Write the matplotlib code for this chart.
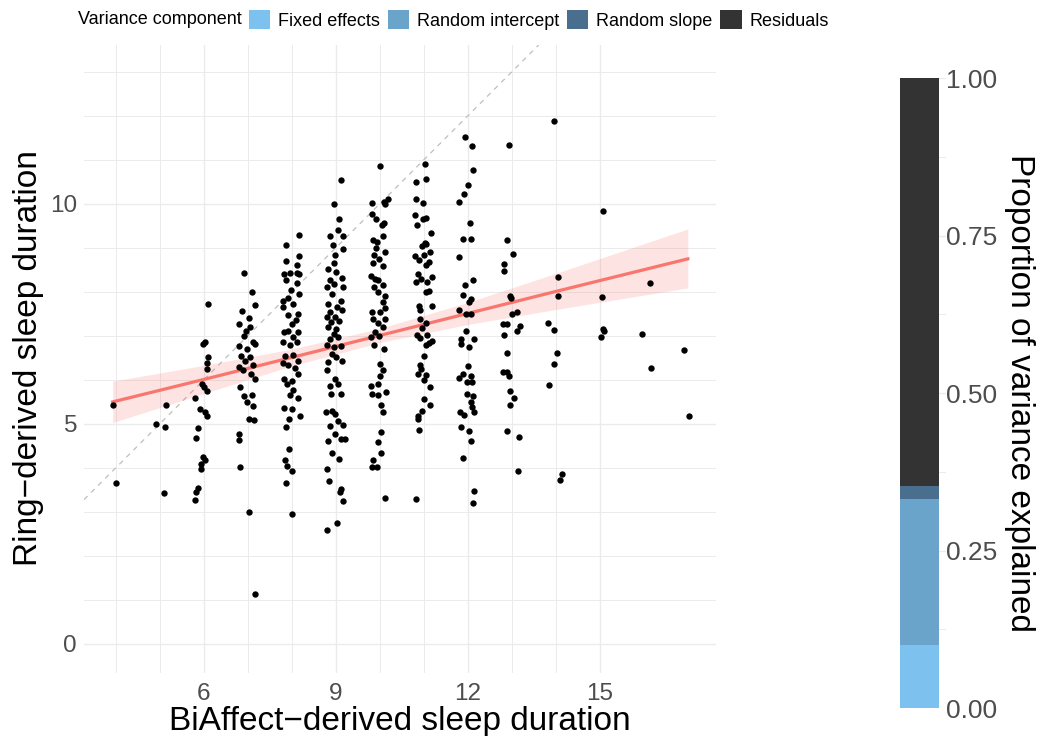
import numpy as np
import matplotlib.pyplot as plt
from matplotlib.patches import Patch

plt.rcParams['font.family'] = ['Liberation Sans', 'DejaVu Sans']

# (BiAffect hours, ring hours) per night, grouped by rounded BiAffect duration
col_4 = [(3.93, 5.42), (4.00, 3.66)]
col_5 = [(4.92, 5.00), (5.15, 5.42), (5.13, 4.92), (5.10, 3.44)]
col_6 = [(6.10, 7.73), (6.02, 6.87), (5.98, 6.82), (6.10, 6.51), (6.07, 6.38), (6.08, 6.25),
         (5.95, 5.90), (6.00, 5.85), (6.08, 5.75), (5.81, 5.59), (5.92, 5.34), (6.03, 5.28),
         (6.07, 5.18), (5.87, 4.90), (5.82, 4.67), (5.98, 4.25), (6.03, 4.17), (5.93, 4.09),
         (5.94, 3.98), (5.86, 3.55), (5.83, 3.45), (5.81, 3.28)]
col_7 = [(6.92, 8.42), (7.09, 8.00), (6.88, 7.56), (7.16, 7.70), (7.04, 7.40), (6.81, 7.26),
         (6.95, 7.12), (7.05, 7.20), (6.92, 7.00), (7.13, 6.87), (6.80, 6.78), (6.98, 6.71),
         (7.16, 6.81), (6.85, 6.55), (7.06, 6.51), (6.94, 6.44), (7.13, 6.34), (6.81, 6.30),
         (6.90, 6.22), (7.07, 6.14), (7.17, 6.03), (6.83, 5.83), (6.92, 5.63), (6.98, 5.49),
         (7.09, 5.65), (7.13, 5.41), (7.02, 5.11), (7.14, 5.08), (6.81, 4.77), (6.81, 4.63),
         (6.83, 4.02), (7.02, 3.00), (7.17, 1.13)]
col_8 = [(8.17, 9.30), (7.88, 9.07), (8.16, 8.81), (7.88, 8.71), (8.13, 8.62), (7.83, 8.40),
         (7.95, 8.43), (8.13, 8.43), (8.17, 8.40), (7.86, 8.26), (8.12, 8.21), (7.99, 8.05),
         (8.17, 7.96), (7.81, 7.80), (7.92, 7.85), (7.80, 7.65), (8.02, 7.72), (7.91, 7.48),
         (8.14, 7.50), (8.09, 7.36), (8.00, 7.28), (7.83, 7.08), (7.92, 7.12), (8.14, 7.08),
         (8.03, 6.97), (7.81, 6.87), (7.96, 6.79), (8.11, 6.87), (7.84, 6.55), (8.03, 6.56),
         (8.14, 6.43), (7.92, 6.34), (7.80, 6.38), (8.07, 6.26), (7.83, 6.02), (8.00, 5.98),
         (7.89, 5.90), (8.14, 6.14), (8.03, 5.77), (8.15, 5.59), (7.95, 5.65), (7.83, 5.36),
         (8.01, 5.33), (7.94, 5.12), (8.19, 5.18), (7.86, 4.93), (7.94, 4.43), (7.85, 4.19),
         (7.90, 4.04), (8.00, 3.92), (7.86, 3.65), (8.00, 2.96)]
col_9 = [(9.13, 10.55), (8.95, 10.00), (9.08, 9.66), (9.05, 9.40), (9.17, 9.28), (8.87, 9.26),
         (8.93, 9.06), (9.17, 8.98), (8.98, 8.83), (8.95, 8.65), (8.83, 8.52), (9.01, 8.45),
         (9.14, 8.32), (8.86, 8.26), (8.97, 8.18), (9.16, 8.11), (8.79, 8.11), (8.92, 7.96),
         (9.11, 7.80), (8.83, 7.73), (9.02, 7.65), (8.87, 7.54), (9.14, 7.58), (8.79, 7.42),
         (8.98, 7.42), (8.90, 7.31), (9.08, 7.33), (8.83, 7.20), (9.01, 7.16), (8.95, 7.05),
         (8.87, 6.93), (9.06, 6.97), (9.11, 6.78), (8.81, 6.80), (8.95, 6.74), (8.91, 6.59),
         (9.00, 6.51), (8.83, 6.40), (9.15, 6.44), (8.79, 6.23), (8.98, 6.02), (8.87, 5.87),
         (9.05, 5.91), (8.90, 5.68), (9.11, 5.68), (8.78, 5.28), (8.92, 5.30), (8.98, 5.22),
         (8.87, 4.96), (9.06, 5.07), (9.16, 4.97), (8.98, 4.77), (8.83, 4.62), (9.13, 4.66),
         (9.20, 4.66), (8.91, 4.34), (9.08, 4.20), (8.81, 3.97), (8.85, 3.71), (9.13, 3.52),
         (9.09, 3.46), (9.17, 3.24), (9.02, 2.74), (8.81, 2.58)]
col_10 = [(10.00, 10.85), (9.82, 10.02), (10.18, 10.12), (10.12, 10.00), (10.09, 10.04),
          (9.82, 9.78), (9.92, 9.66), (10.10, 9.57), (10.05, 9.51), (10.07, 9.28), (9.84, 9.17),
          (9.94, 9.13), (9.91, 9.00), (10.11, 8.90), (9.86, 8.83), (9.98, 8.75), (9.84, 8.65),
          (10.07, 8.58), (9.80, 8.37), (9.90, 8.30), (9.97, 8.26), (10.07, 8.15), (9.87, 8.12),
          (9.97, 7.99), (10.11, 7.90), (10.07, 7.78), (10.13, 7.63), (9.82, 7.55), (10.01, 7.54),
          (9.84, 7.39), (10.13, 7.39), (9.95, 7.30), (10.07, 7.20), (9.81, 6.97), (9.90, 7.08),
          (9.99, 6.99), (9.87, 6.79), (10.09, 6.70), (10.00, 6.36), (10.07, 6.23), (10.01, 6.10),
          (9.81, 5.87), (9.97, 5.91), (10.15, 5.73), (9.82, 5.68), (9.95, 5.66), (10.03, 5.43),
          (10.08, 5.26), (10.03, 4.81), (9.95, 4.60), (10.03, 4.35), (9.84, 4.18), (9.82, 4.01),
          (9.94, 4.01), (10.11, 3.31)]
col_11 = [(11.03, 10.91), (10.82, 10.49), (11.04, 10.57), (10.83, 10.12), (10.98, 10.03),
          (10.81, 9.74), (10.85, 9.53), (11.05, 9.68), (10.98, 9.66), (11.17, 9.34), (11.02, 9.12),
          (11.06, 9.09), (10.95, 9.04), (11.14, 8.90), (11.00, 8.83), (10.81, 8.81), (10.89, 8.73),
          (11.11, 8.68), (11.05, 8.60), (10.87, 8.41), (11.18, 8.34), (11.08, 8.22), (10.83, 8.22),
          (10.93, 8.30), (11.11, 8.03), (11.06, 7.99), (11.18, 7.68), (10.89, 7.69), (10.92, 7.58),
          (10.91, 7.39), (11.06, 7.30), (10.96, 7.17), (10.85, 7.01), (10.92, 6.95), (11.07, 7.02),
          (11.19, 6.89), (11.06, 6.80), (11.13, 6.84), (11.00, 6.55), (10.91, 6.34), (10.94, 6.25),
          (11.06, 6.11), (10.87, 6.13), (11.00, 6.00), (11.14, 5.83), (11.00, 5.57), (11.15, 5.43),
          (10.96, 5.30), (10.88, 5.19), (10.86, 5.11), (10.90, 4.87), (10.83, 3.30)]
col_12 = [(11.94, 11.53), (12.09, 11.32), (12.13, 10.76), (12.00, 10.42), (11.91, 10.23),
          (11.80, 10.04), (12.04, 9.56), (11.90, 9.20), (12.08, 9.20), (11.81, 8.80), (12.12, 8.27),
          (11.93, 8.15), (11.90, 7.92), (12.07, 7.84), (12.03, 7.77), (11.80, 7.58), (11.96, 7.50),
          (12.07, 7.50), (11.96, 7.12), (11.84, 6.93), (12.14, 6.93), (11.84, 6.82), (12.03, 6.75),
          (12.01, 6.32), (11.90, 6.13), (11.80, 6.04), (12.07, 6.10), (11.99, 5.96), (12.10, 5.95),
          (11.99, 5.68), (12.12, 5.64), (12.08, 5.49), (12.10, 5.38), (12.14, 5.26), (11.82, 5.26),
          (11.91, 5.20), (11.84, 4.92), (12.02, 4.85), (12.07, 4.62), (11.90, 4.22), (12.14, 3.48),
          (12.12, 3.21)]
col_13 = [(12.94, 11.33), (12.88, 9.17), (13.03, 8.86), (12.82, 8.64), (12.83, 8.47), (12.95, 7.91),
          (12.99, 7.87), (13.00, 7.49), (13.11, 7.55), (12.80, 7.28), (12.88, 7.26), (13.19, 7.22),
          (13.11, 7.12), (12.83, 7.02), (12.89, 6.62), (12.81, 6.17), (12.90, 6.18), (12.94, 6.10),
          (12.96, 5.74), (13.06, 5.60), (12.96, 5.42), (12.89, 4.84), (13.17, 4.71), (13.13, 3.93)]
col_14 = [(13.95, 11.89), (14.05, 8.33), (14.05, 7.90), (13.83, 7.30), (13.96, 7.14), (14.02, 6.61),
          (13.95, 6.36), (13.84, 5.88), (14.13, 3.87), (14.10, 3.72)]
col_15 = [(15.07, 9.83), (15.06, 7.88), (15.07, 7.15), (15.10, 7.11), (15.03, 6.98)]
col_16 = [(16.13, 8.21), (15.95, 7.05), (16.16, 6.26)]
col_17 = [(16.92, 6.67), (17.03, 5.18)]

# linear fit with its 95% band
fit_x = [3.93, 6, 8, 10, 12, 14, 17.0]
fit_y = [5.50, 6.01, 6.51, 7.01, 7.51, 8.01, 8.75]
fit_lo = [5.03, 5.69, 6.32, 6.85, 7.26, 7.60, 8.09]
fit_hi = [5.97, 6.33, 6.70, 7.17, 7.76, 8.42, 9.43]

# variance decomposition
components = ['Fixed effects', 'Random intercept', 'Random slope', 'Residuals']
proportions = [0.10, 0.232, 0.02, 0.648]
comp_colors = ['#7DC1EE', '#6AA4CB', '#4A6E8E', '#333333']

pts = np.array(col_4 + col_5 + col_6 + col_7 + col_8 + col_9 + col_10 + col_11
               + col_12 + col_13 + col_14 + col_15 + col_16 + col_17)

W, H = 1042, 736
fig = plt.figure(figsize=(W / 100, H / 100), dpi=100)
grey = '#4D4D4D'
grid_c = '#EBEBEB'

# scatter panel
ax = fig.add_axes([84 / W, 1 - 673 / H, (716 - 84) / W, (673 - 45) / H])
ax.set_xlim(3.28, 17.64)
ax.set_ylim(-0.66, 13.61)
ax.set_xticks([6, 9, 12, 15])
ax.set_xticks([4, 5, 7, 8, 10, 11, 13, 14], minor=True)
ax.set_yticks([0, 5, 10])
ax.set_yticks([1, 2, 3, 4, 6, 7, 8, 9, 11, 12, 13], minor=True)
ax.grid(True, which='major', color=grid_c, lw=1.0)
ax.grid(True, which='minor', color=grid_c, lw=0.7)
ax.set_axisbelow(True)
for s in ax.spines.values():
    s.set_visible(False)
ax.tick_params(which='both', length=0, labelsize=17.5, labelcolor=grey)
ax.tick_params(axis='x', pad=7)
ax.tick_params(axis='y', pad=5)

ax.axline((0, 0), slope=1, ls=(0, (4, 4)), color='#BEBEBE', lw=0.9, zorder=1)
ax.fill_between(fit_x, fit_lo, fit_hi, color='#F8766D', alpha=0.2, lw=0, zorder=2)
ax.plot(fit_x, fit_y, color='#F8766D', lw=2.3, zorder=3)
ax.scatter(pts[:, 0], pts[:, 1], s=21, color='black', lw=0, zorder=4)

fig.text(400 / W, 1 - 730 / H, 'BiAffect\u2212derived sleep duration', ha='center',
         va='baseline', fontsize=24)
fig.text(29 / W, 1 - 358 / H, 'Ring\u2212derived sleep duration', ha='center',
         va='center', rotation=90, fontsize=24)

# stacked variance bar
bx = fig.add_axes([900 / W, 1 - 708 / H, 46 / W, (708 - 78) / H])
bx.set_xlim(0.5, 1.68)
bx.set_ylim(0, 1)
bx.set_yticks([0, 0.25, 0.5, 0.75, 1.0])
bx.set_yticks([0.125, 0.375, 0.625, 0.875], minor=True)
bx.set_yticklabels(['0.00', '0.25', '0.50', '0.75', '1.00'])
bx.set_xticks([])
bx.grid(True, axis='y', which='major', color=grid_c, lw=1.0)
bx.grid(True, axis='y', which='minor', color=grid_c, lw=0.7)
bx.set_axisbelow(True)
for s in bx.spines.values():
    s.set_visible(False)
bx.yaxis.tick_right()
bx.tick_params(which='both', length=0, labelsize=19, labelcolor=grey, pad=0)
bottom = 0
for p, c in zip(proportions, comp_colors):
    bx.bar(1, p, bottom=bottom, width=1.0, color=c, lw=0)
    bottom += p
fig.text(1020 / W, 1 - 393 / H, 'Proportion of variance explained', ha='center',
         va='center', rotation=270, fontsize=24)

# legend on top
fig.text(78 / W, 1 - 20 / H, 'Variance component', ha='left', va='center', fontsize=13)
handles = [Patch(facecolor=c, edgecolor='none', label=n) for n, c in zip(components, comp_colors)]
fig.legend(handles=handles, loc='center left', bbox_to_anchor=(249 / W, 1 - 20 / H),
           ncol=4, frameon=False, fontsize=13, handlelength=1.17, handleheight=1.2,
           handletextpad=0.44, columnspacing=0.44, borderpad=0, borderaxespad=0)

fig.savefig('out.png', dpi=100)
